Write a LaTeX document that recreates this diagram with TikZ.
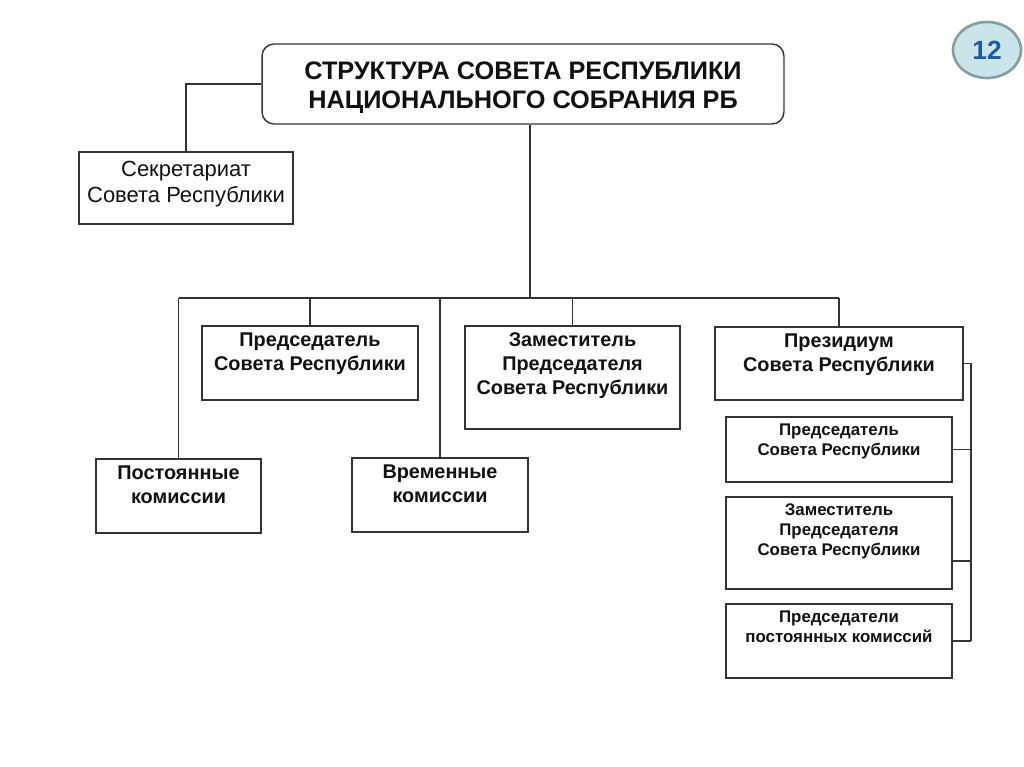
\documentclass[tikz,border=0pt]{standalone}
\usepackage{fontspec}
\setmainfont{Liberation Sans}
\usetikzlibrary{shapes.geometric}
\definecolor{linegray}{HTML}{333333}
\definecolor{inkblack}{HTML}{111111}
\definecolor{badgefill}{HTML}{C9E4EA}
\definecolor{badgeedge}{HTML}{879EA2}
\definecolor{badgetext}{HTML}{1C5C9E}

\begin{document}
\begin{tikzpicture}[x=0.02cm,y=-0.02cm,
	box/.style 2 args={draw=linegray,line width=0.8pt,rectangle,inner sep=0pt,minimum width=#1,minimum height=#2},
	boxtext/.style={anchor=north,align=center,text=inkblack,inner sep=4pt,font=\bfseries\fontsize{11.3}{13.6}\selectfont},
	subtext/.style={anchor=north,align=center,text=inkblack,inner sep=4pt,font=\bfseries\fontsize{9.6}{11.3}\selectfont},
	titletext/.style={anchor=center,yshift=-0.07cm,align=center,text=inkblack,font=\bfseries\fontsize{14.4}{16.8}\selectfont},
	sectext/.style={anchor=center,yshift=0.08cm,align=center,text=inkblack,font=\fontsize{12.5}{14.7}\selectfont},
	conn/.style={draw=linegray,line width=0.8pt}]
	\useasboundingbox (0,0) rectangle (1024,767);

	\node[box={10.44cm}{1.6cm},rounded corners=0.24cm,
		label={[titletext]center:{СТРУКТУРА СОВЕТА РЕСПУБЛИКИ\\НАЦИОНАЛЬНОГО СОБРАНИЯ РБ}}] (title) at (523,84) {};
	\node[box={4.28cm}{1.44cm},label={[sectext]center:{Секретариат\\Совета Республики}}] (sec) at (186,188) {};

	\node[box={4.32cm}{1.48cm},label={[boxtext]north:{Председатель\\Совета Республики}}] (pred) at (310,363) {};
	\node[box={4.3cm}{2.06cm},label={[boxtext]north:{Заместитель\\Председателя\\Совета Республики}}] (zam) at (572.5,377.5) {};
	\node[box={4.96cm}{1.46cm},label={[boxtext]north:{Президиум\\Совета Республики}}] (prez) at (839,363.5) {};
	\node[box={3.3cm}{1.48cm},label={[boxtext]north:{Постоянные\\комиссии}}] (post) at (178.5,496) {};
	\node[box={3.52cm}{1.48cm},label={[boxtext]north:{Временные\\комиссии}}] (vrem) at (440,495) {};

	\node[box={4.52cm}{1.3cm},label={[subtext]north:{Председатель\\Совета Республики}}] (s1) at (839,449.5) {};
	\node[box={4.52cm}{1.84cm},label={[subtext]north:{Заместитель\\Председателя\\Совета Республики}}] (s2) at (839,543) {};
	\node[box={4.52cm}{1.48cm},label={[subtext]north:{Председатели\\постоянных комиссий}}] (s3) at (839,641) {};

	\node[ellipse,draw=badgeedge,line width=1.5pt,fill=badgefill,minimum width=1.36cm,minimum height=1.12cm,
		text=badgetext,font=\bfseries\fontsize{15}{17}\selectfont] (num) at (987,50) {12};

	% connectors
	\coordinate (bus) at (530,298);
	\coordinate (rb) at (971,365);
	\draw[conn] (title.west) -| (sec.north);
	\draw[conn] (title.south -| bus) -- (bus);
	\draw[conn] (post.north |- bus) -- (prez.north |- bus);
	\foreach \n in {post,pred,vrem,zam,prez}
		\draw[conn] (\n.north) -- (\n.north |- bus);
	\draw[conn] (prez.east) -- (prez.east -| rb) -- (rb |- s3.east);
	\draw[conn] (s1.east) -- (s1.east -| rb);
	\draw[conn] ([yshift=-0.36cm]s2.east) -- ([yshift=-0.36cm]s2.east -| rb);
	\draw[conn] (s3.east) -- (s3.east -| rb);
\end{tikzpicture}
\end{document}
